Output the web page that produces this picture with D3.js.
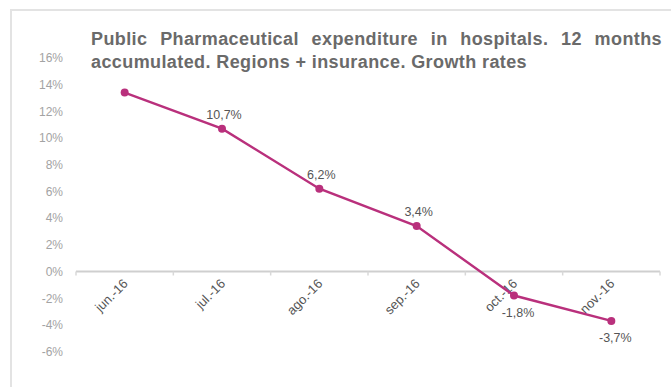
<!DOCTYPE html>
<html>
<head>
<meta charset="utf-8">
<script src="https://cdn.jsdelivr.net/npm/d3@7"></script>
<style>
  html, body { margin: 0; padding: 0; background: #fff; }
  svg { display: block; }
</style>
</head>
<body>
<svg id="chart" width="671" height="387"></svg>
<script>
// Monthly categories and 12‑month accumulated growth rates (%)
const months = ["jun.-16", "jul.-16", "ago.-16", "sep.-16", "oct.-16", "nov.-16"];
const growth = [13.4, 10.7, 6.2, 3.4, -1.8, -3.7];
// Which points carry a value label (the first one is unlabelled)
const showLabel = [false, true, true, true, true, true];
const yTicks = [-6, -4, -2, 0, 2, 4, 6, 8, 10, 12, 14, 16];
const titleLines = [
  "Public Pharmaceutical expenditure in hospitals. 12 months",
  "accumulated. Regions + insurance. Growth rates"
];

const svg = d3.select("#chart");
const font = "'Liberation Sans', Arial, Helvetica, sans-serif";
const lineColor = "#b9307c";

// Frame (top and left edges)
svg.append("path")
  .attr("d", "M11,387 L11,10 L671,10")
  .attr("fill", "none")
  .attr("stroke", "#e3e3e3")
  .attr("stroke-width", 2);

const x = d3.scaleBand().domain(months).range([76, 660]).padding(0);
const y = d3.scaleLinear().domain([-6, 16]).range([351.6, 57.9]);

// Y axis labels (no axis line)
const yAxis = d3.axisLeft(y).tickValues(yTicks).tickSize(0).tickPadding(0)
  .tickFormat(d => d + "%");
const gy = svg.append("g").attr("transform", "translate(63,0)").call(yAxis);
gy.select(".domain").remove();
gy.selectAll("text")
  .attr("font-family", font).attr("font-size", 12).attr("fill", "#a3a3a3");

// X axis along zero with tick marks at category boundaries
const gx = svg.append("g").attr("transform", `translate(0,${y(0)})`);
gx.append("line")
  .attr("x1", x.range()[0]).attr("x2", x.range()[1])
  .attr("stroke", "#cfcfcf").attr("stroke-width", 2);
gx.selectAll("line.tick")
  .data(months.concat([null]))
  .join("line")
  .attr("class", "tick")
  .attr("x1", (d, i) => x.range()[0] + i * x.bandwidth())
  .attr("x2", (d, i) => x.range()[0] + i * x.bandwidth())
  .attr("y1", 0).attr("y2", 4)
  .attr("stroke", "#d8d8d8").attr("stroke-width", 1.5);
gx.selectAll("text")
  .data(months)
  .join("text")
  .attr("transform", d => `translate(${x(d) + x.bandwidth() / 2 + 4},${13}) rotate(-45)`)
  .attr("text-anchor", "end")
  .attr("font-family", font).attr("font-size", 13).attr("fill", "#555")
  .text(d => d);

// Series line and markers
const pts = months.map((m, i) => ({ m, v: growth[i], lab: showLabel[i] }));
const line = d3.line().x(d => x(d.m) + x.bandwidth() / 2).y(d => y(d.v));
svg.append("path")
  .datum(pts)
  .attr("d", line)
  .attr("fill", "none")
  .attr("stroke", lineColor)
  .attr("stroke-width", 2.4);
svg.selectAll("circle.pt")
  .data(pts)
  .join("circle")
  .attr("class", "pt")
  .attr("cx", d => x(d.m) + x.bandwidth() / 2)
  .attr("cy", d => y(d.v))
  .attr("r", 4)
  .attr("fill", lineColor);

// Value labels: above for positive values, below for negative ones
const fmt = v => (v.toFixed(1) + "%").replace(".", ",");
svg.selectAll("text.val")
  .data(pts.filter(d => d.lab))
  .join("text")
  .attr("class", "val")
  .attr("x", d => x(d.m) + x.bandwidth() / 2 + (d.v < 0 ? 4 : 2))
  .attr("y", d => y(d.v) + (d.v < 0 ? 21 : -10))
  .attr("text-anchor", "middle")
  .attr("font-family", font).attr("font-size", 12.5).attr("fill", "#555")
  .text(d => fmt(d.v));

// Title, first line justified between left and right edges
const titleLeft = 91, titleRight = 662;
const tg = svg.append("g")
  .attr("font-family", font).attr("font-size", 18)
  .attr("letter-spacing", 0.4)
  .attr("font-weight", "bold").attr("fill", "#6a6a6a");
titleLines.forEach((ln, li) => {
  const baseY = 45 + li * 23;
  const words = ln.split(" ");
  if (li === 0) {
    const widths = words.map(w => {
      const t = tg.append("text").text(w);
      const wd = t.node().getComputedTextLength();
      t.remove();
      return wd;
    });
    const total = d3.sum(widths);
    const gap = (titleRight - titleLeft - total) / (words.length - 1);
    let cx = titleLeft;
    words.forEach((w, i) => {
      tg.append("text").attr("x", cx).attr("y", baseY).text(w);
      cx += widths[i] + gap;
    });
  } else {
    tg.append("text").attr("x", titleLeft).attr("y", baseY).text(ln);
  }
});
</script>
</body>
</html>
